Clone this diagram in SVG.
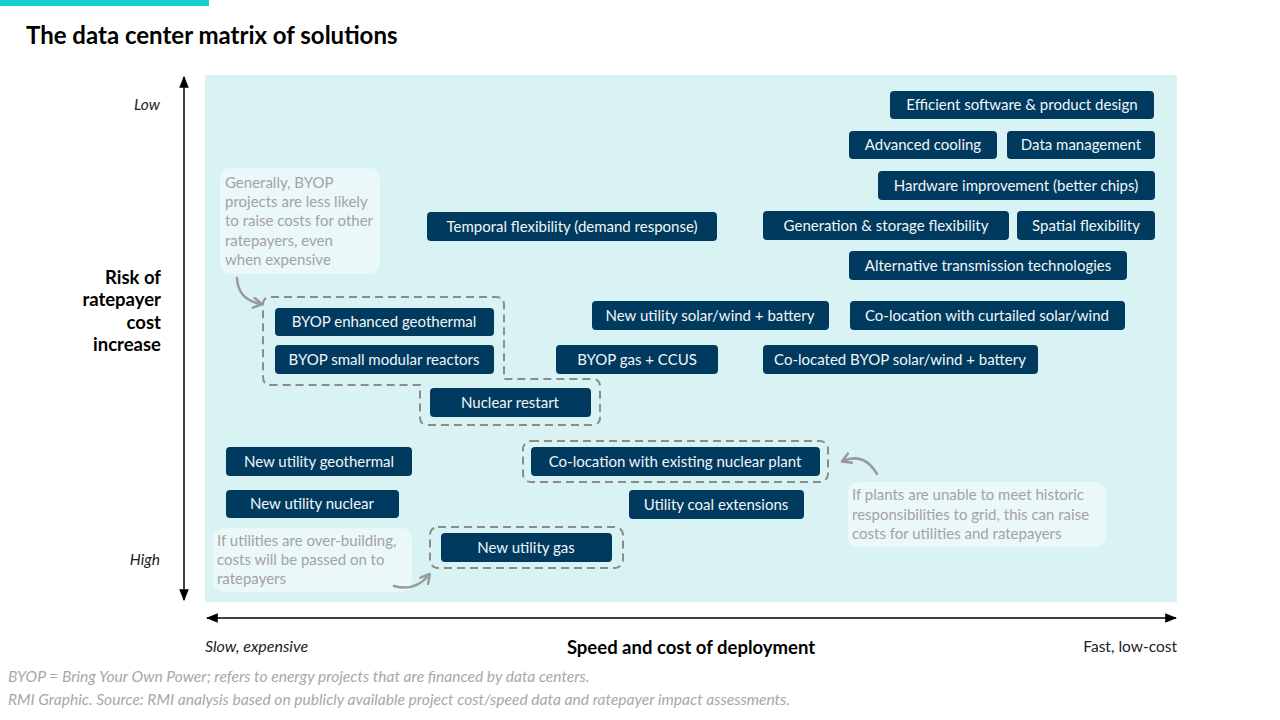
<svg xmlns="http://www.w3.org/2000/svg" width="1280" height="720" viewBox="0 0 1280 720">
<style>
.box{fill:#003a5f}
.bt{font-family:Lato,"Open Sans",sans-serif;font-size:15px;fill:#f2f6f8;text-anchor:middle}
.dash{fill:none;stroke:#8c8c8c;stroke-width:2;stroke-dasharray:8 5}
.note{fill:#ffffff;fill-opacity:0.45}
.nt{font-family:Lato,"Open Sans",sans-serif;font-size:15px;fill:#a3a3a3}
.ax{font-family:Lato,"Open Sans",sans-serif;font-size:15.5px;fill:#222;font-style:italic}
.axb{font-family:Lato,"Open Sans",sans-serif;font-size:18.5px;fill:#000;font-weight:bold}
.foot{font-family:Lato,"Open Sans",sans-serif;font-size:15.6px;fill:#a8a8a8;font-style:italic}
.carrow{fill:none;stroke:#9a9a9a;stroke-width:2.5;stroke-linecap:round}
</style>
<defs>
<marker id="ah" viewBox="0 0 10 10" refX="9" refY="5" markerWidth="8" markerHeight="8" orient="auto-start-reverse"><path d="M0,1 L10,5 L0,9 z" fill="#000"/></marker>
<marker id="ch" viewBox="0 0 10 10" refX="7" refY="5" markerWidth="5" markerHeight="5" orient="auto" markerUnits="strokeWidth"><path d="M1,1 L8,5 L1,9" fill="none" stroke="#9a9a9a" stroke-width="2" stroke-linecap="round" stroke-linejoin="round"/></marker>
</defs>
<rect x="0" y="0" width="1280" height="720" fill="#fff"/>
<rect x="0" y="0" width="209" height="6" fill="#14d0d0"/>
<text x="26" y="44" font-family="Lato,'Open Sans',sans-serif" font-size="24" font-weight="bold" fill="#000">The data center matrix of solutions</text>

<rect x="205" y="75" width="972" height="527" fill="#d9f3f5"/>

<g id="axes">
<line x1="184" y1="600" x2="184" y2="77" stroke="#000" stroke-width="1.5" marker-start="url(#ah)" marker-end="url(#ah)"/>
<line x1="207" y1="618" x2="1176" y2="618" stroke="#000" stroke-width="1.5" marker-start="url(#ah)" marker-end="url(#ah)"/>
<text class="ax" x="160" y="110" text-anchor="end">Low</text>
<text class="ax" x="160" y="565" text-anchor="end">High</text>
<text class="axb" text-anchor="end"><tspan x="161" y="284">Risk of</tspan><tspan x="161" y="306">ratepayer</tspan><tspan x="161" y="329">cost</tspan><tspan x="161" y="351">increase</tspan></text>
<text class="ax" x="205" y="652" style="font-size:16px">Slow, expensive</text>
<text class="axb" x="691" y="654" text-anchor="middle">Speed and cost of deployment</text>
<text class="ax" x="1177" y="652" text-anchor="end" style="font-style:normal">Fast, low-cost</text>
</g>

<g id="groups">
<path class="dash" d="M271,297 H496 Q504,297 504,305 V379 H592 Q600,379 600,387 V417 Q600,425 592,425 H428 Q420,425 420,417 V385 H271 Q263,385 263,377 V305 Q263,297 271,297 Z"/>
<rect class="dash" x="523" y="441" width="305" height="41" rx="8"/>
<rect class="dash" x="430" y="527" width="193" height="41" rx="8"/>
</g>

<g id="n1"><rect class="box" x="890" y="91" width="264" height="28" rx="4"/><text class="bt" x="1022" y="110">Efficient software &amp; product design</text></g>
<g id="n2"><rect class="box" x="849" y="131" width="148" height="28" rx="4"/><text class="bt" x="923" y="150">Advanced cooling</text></g>
<g id="n3"><rect class="box" x="1007" y="131" width="148" height="28" rx="4"/><text class="bt" x="1081" y="150">Data management</text></g>
<g id="n4"><rect class="box" x="878" y="171" width="277" height="29" rx="4"/><text class="bt" x="1016" y="191">Hardware improvement (better chips)</text></g>
<g id="n5"><rect class="box" x="427" y="212" width="290" height="29" rx="4"/><text class="bt" x="572" y="232">Temporal flexibility (demand response)</text></g>
<g id="n6"><rect class="box" x="763" y="211" width="246" height="29" rx="4"/><text class="bt" x="886" y="231">Generation &amp; storage flexibility</text></g>
<g id="n7"><rect class="box" x="1017" y="211" width="138" height="29" rx="4"/><text class="bt" x="1086" y="231">Spatial flexibility</text></g>
<g id="n8"><rect class="box" x="849" y="251" width="278" height="29" rx="4"/><text class="bt" x="988" y="271">Alternative transmission technologies</text></g>
<g id="n9"><rect class="box" x="592" y="301" width="237" height="29" rx="4"/><text class="bt" x="710" y="321">New utility solar/wind + battery</text></g>
<g id="n10"><rect class="box" x="850" y="301" width="275" height="29" rx="4"/><text class="bt" x="987" y="321">Co-location with curtailed solar/wind</text></g>
<g id="n11"><rect class="box" x="556" y="345" width="162" height="29" rx="4"/><text class="bt" x="637" y="365">BYOP gas + CCUS</text></g>
<g id="n12"><rect class="box" x="763" y="345" width="275" height="29" rx="4"/><text class="bt" x="900" y="365">Co-located BYOP solar/wind + battery</text></g>
<g id="n13"><rect class="box" x="275" y="308" width="219" height="28" rx="4"/><text class="bt" x="384" y="327">BYOP enhanced geothermal</text></g>
<g id="n14"><rect class="box" x="275" y="345" width="219" height="29" rx="4"/><text class="bt" x="384" y="365">BYOP small modular reactors</text></g>
<g id="n15"><rect class="box" x="430" y="388" width="161" height="29" rx="4"/><text class="bt" x="510" y="408">Nuclear restart</text></g>
<g id="n16"><rect class="box" x="226" y="447" width="186" height="29" rx="4"/><text class="bt" x="319" y="467">New utility geothermal</text></g>
<g id="n17"><rect class="box" x="226" y="490" width="173" height="28" rx="4"/><text class="bt" x="312" y="509">New utility nuclear</text></g>
<g id="n18"><rect class="box" x="531" y="447" width="289" height="29" rx="4"/><text class="bt" x="675" y="467">Co-location with existing nuclear plant</text></g>
<g id="n19"><rect class="box" x="629" y="490" width="175" height="29" rx="4"/><text class="bt" x="716" y="510">Utility coal extensions</text></g>
<g id="n20"><rect class="box" x="441" y="533" width="171" height="29" rx="4"/><text class="bt" x="526" y="553">New utility gas</text></g>

<g id="note1"><rect class="note" x="220" y="168" width="160" height="106" rx="10"/><text class="nt"><tspan x="225" y="188">Generally, BYOP</tspan><tspan x="225" y="207">projects are less likely</tspan><tspan x="225" y="226">to raise costs for other</tspan><tspan x="225" y="246">ratepayers, even</tspan><tspan x="225" y="265">when expensive</tspan></text></g>
<g id="note2"><rect class="note" x="213" y="528" width="199" height="64" rx="10"/><text class="nt"><tspan x="217" y="546">If utilities are over-building,</tspan><tspan x="217" y="565">costs will be passed on to</tspan><tspan x="217" y="584">ratepayers</tspan></text></g>
<g id="note3"><rect class="note" x="848" y="482" width="258" height="65" rx="10"/><text class="nt"><tspan x="852" y="500">If plants are unable to meet historic</tspan><tspan x="852" y="520">responsibilities to grid, this can raise</tspan><tspan x="852" y="539">costs for utilities and ratepayers</tspan></text></g>

<g id="connectors">
<path class="carrow" d="M237,278 Q238,300 261,304" marker-end="url(#ch)"/>
<path class="carrow" d="M394,586 Q415,592 429,575" marker-end="url(#ch)"/>
<path class="carrow" d="M877,474 Q864,452 843,461" marker-end="url(#ch)"/>
</g>

<text class="foot" x="8" y="682">BYOP = Bring Your Own Power; refers to energy projects that are financed by data centers.</text>
<text class="foot" x="8" y="705">RMI Graphic. Source: RMI analysis based on publicly available project cost/speed data and ratepayer impact assessments.</text>
</svg>
